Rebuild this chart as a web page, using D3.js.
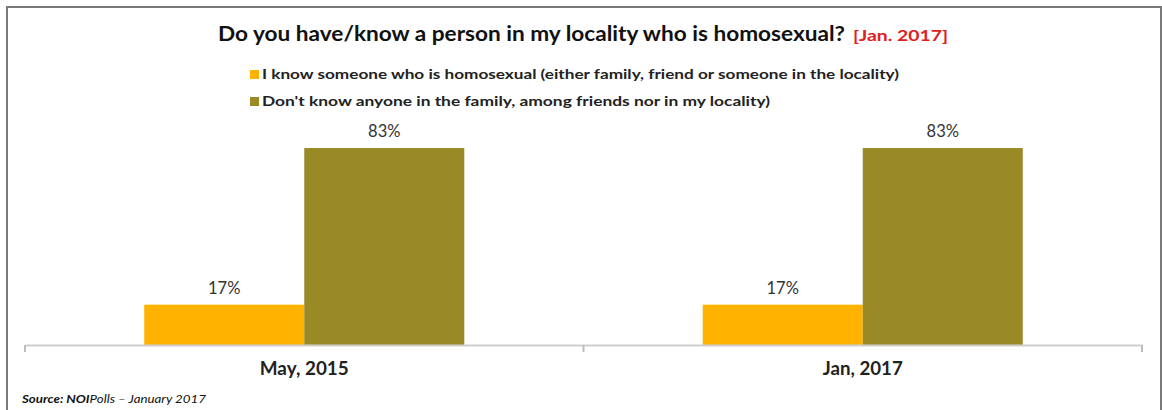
<!DOCTYPE html>
<html>
<head>
<meta charset="utf-8">
<script src="https://cdn.jsdelivr.net/npm/d3@7"></script>
<style>
  html, body { margin: 0; padding: 0; background: #fff; }
  svg { display: block; }
  text { font-family: Lato, "Open Sans", sans-serif; }
</style>
</head>
<body>
<svg id="chart" width="1162" height="410"></svg>
<script>
// Survey periods and answer groups
const categories = ["May, 2015", "Jan, 2017"];
const seriesNames = [
  "I know someone who is homosexual (either family, friend or someone in the locality)",
  "Don't know anyone in the family, among friends nor in my locality)"
];
const knowSomeone = [17, 17];   // % who know someone
const dontKnow = [83, 83];      // % who don't know anyone
const seriesColors = ["#FFB300", "#9A8A26"];

const rows = categories.map((c, i) => ({ cat: c, values: [knowSomeone[i], dontKnow[i]] }));

const svg = d3.select("#chart");
const H = 410;

// stretch a text run to a set width
function fitWidth(sel, w) {
  sel.attr("textLength", w).attr("lengthAdjust", "spacingAndGlyphs");
  return sel;
}

// outer frame
svg.append("path")
  .attr("d", `M7,${H} V7 H1161 V${H}`)
  .attr("fill", "none")
  .attr("stroke", "#7a7a7a")
  .attr("stroke-width", 2);

const baseY = 345;
const x0 = d3.scaleBand().domain(categories).range([25, 1142]).paddingInner(0).paddingOuter(0);
const x1 = d3.scaleBand().domain(d3.range(seriesNames.length)).range([0, x0.bandwidth()])
  .paddingInner(0).paddingOuter(0.745);
const y = d3.scaleLinear().domain([0, 100]).range([baseY, baseY - 237.3]);

// title
fitWidth(svg.append("text")
  .attr("x", 218).attr("y", 41)
  .attr("font-weight", "bold")
  .attr("font-size", 20)
  .attr("fill", "#111")
  .text("Do you have/know a person in my locality who is homosexual?"), 627);
fitWidth(svg.append("text")
  .attr("x", 853).attr("y", 41)
  .attr("font-weight", "bold")
  .attr("font-size", 15.5)
  .attr("fill", "#e02020")
  .text("[Jan. 2017]"), 95);

// legend
const legendWidths = [637, 508];
const legend = svg.append("g").attr("transform", "translate(250,0)");
seriesNames.forEach((name, i) => {
  const ly = 74 + i * 27;
  legend.append("rect").attr("x", 0).attr("y", ly - 4).attr("width", 9).attr("height", 9)
    .attr("fill", seriesColors[i]);
  fitWidth(legend.append("text").attr("x", 12).attr("y", ly + 4.5)
    .attr("font-size", 14).attr("font-weight", "bold").attr("fill", "#222")
    .text(name), legendWidths[i]);
});

// bars
const groups = svg.append("g").selectAll("g").data(rows).join("g")
  .attr("transform", d => `translate(${x0(d.cat)},0)`);

groups.selectAll("rect").data(d => d.values.map((v, i) => ({ v, i }))).join("rect")
  .attr("x", d => x1(d.i))
  .attr("width", x1.bandwidth())
  .attr("y", d => y(d.v))
  .attr("height", d => baseY - y(d.v))
  .attr("fill", d => seriesColors[d.i]);

groups.selectAll("text.val").data(d => d.values.map((v, i) => ({ v, i }))).join("text")
  .attr("class", "val")
  .attr("x", d => x1(d.i) + x1.bandwidth() / 2)
  .attr("y", d => y(d.v) - 11)
  .attr("text-anchor", "middle")
  .attr("font-size", 16.5)
  .attr("fill", "#333")
  .text(d => d.v + "%");

// category axis
const axis = svg.append("g").attr("transform", `translate(0,${baseY})`)
  .call(d3.axisBottom(x0).tickSize(0).tickPadding(17));
axis.select(".domain").attr("stroke", "#cfcfcf").attr("stroke-width", 2);
axis.selectAll(".tick text")
  .attr("font-family", "Lato, 'Open Sans', sans-serif")
  .attr("font-size", 18).attr("font-weight", "bold").attr("fill", "#222")
  .attr("textLength", (d, i) => [89, 80][i]).attr("lengthAdjust", "spacingAndGlyphs");

// boundary ticks between categories
const edges = categories.map(c => x0(c)).concat([x0.range()[1]]);
axis.selectAll("line.edge").data(edges).join("line")
  .attr("class", "edge")
  .attr("x1", d => d).attr("x2", d => d)
  .attr("y1", 0).attr("y2", 7)
  .attr("stroke", "#bdbdbd").attr("stroke-width", 2);

// source note
const src = svg.append("text").attr("x", 22).attr("y", 403)
  .attr("font-size", 12).attr("font-style", "italic").attr("fill", "#111");
src.append("tspan").attr("font-weight", "bold").text("Source: NOI");
src.append("tspan").text("Polls – January 2017");
fitWidth(src, 184);
</script>
</body>
</html>
